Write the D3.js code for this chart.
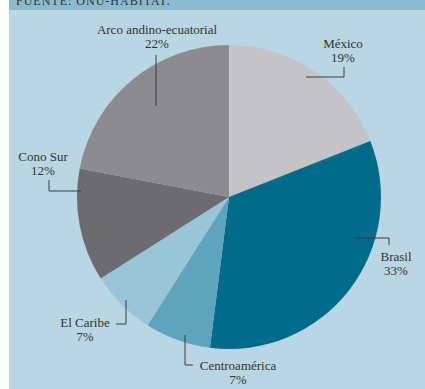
<!DOCTYPE html>
<meta charset="utf-8">
<style>
    body { margin: 0; background: #fff; }
    text {
        font-family: "Liberation Serif", "DejaVu Serif", serif;
        font-size: 13px;
        fill: #2f3336;
    }
    .leader {
        fill: none;
        stroke: #3a3d40;
        stroke-width: 1px;
    }
</style>
<svg width="425" height="389"></svg>
<script src="https://d3js.org/d3.v7.min.js"></script>
<script>
    // regions, share of total (%)
    var regions = ["México", "Brasil", "Centroamérica", "El Caribe", "Cono Sur", "Arco andino-ecuatorial"];
    var shares = [19, 33, 7, 7, 12, 22];
    var colors = ["#c4c4c6", "#006c8a", "#5ea4bc", "#9ac5d6", "#6b6b70", "#8b8b90"];

    // label layout: text centre, first baseline, leader polyline
    var labelLayout = [
        { x: 343, y: 48, line: [[306, 77], [344, 77], [344, 67]] },
        { x: 396, y: 261, line: [[355, 238], [389, 238], [389, 245]] },
        { x: 238, y: 370, line: [[185, 335], [185, 365], [193, 365]] },
        { x: 85, y: 327, line: [[116, 324], [126, 324], [126, 300]] },
        { x: 43, y: 161, line: [[49, 180], [49, 191], [81, 191]] },
        { x: 157, y: 34, line: [[156, 55], [156, 106]] }
    ];

    var width = 425, height = 389;
    var cx = 229, cy = 197, radius = 152;

    var svg = d3.select("svg");

    // background panel + source band
    svg.append("rect").attr("x", 9).attr("y", 0).attr("width", width - 9).attr("height", height)
        .attr("fill", "#b9d7e2");
    svg.append("rect").attr("x", 9).attr("y", 0).attr("width", width - 9).attr("height", 10)
        .attr("fill", "#8cbbcd");
    svg.append("text").attr("x", 16).attr("y", 5)
        .style("font-size", "12px").style("letter-spacing", "1px")
        .text("FUENTE: ONU-HÁBITAT.");

    var data = regions.map(function (r, i) { return { name: r, value: shares[i], color: colors[i] }; });

    var pie = d3.pie().sort(null).value(function (d) { return d.value; });
    var arc = d3.arc().innerRadius(0).outerRadius(radius);

    var g = svg.append("g").attr("transform", "translate(" + cx + "," + cy + ")");
    g.selectAll("path")
        .data(pie(data))
        .enter().append("path")
        .attr("d", arc)
        .attr("fill", function (d) { return d.data.color; });

    var line = d3.line();
    var labels = svg.append("g");
    data.forEach(function (d, i) {
        var l = labelLayout[i];
        labels.append("path").attr("class", "leader").attr("d", line(l.line));
        var t = labels.append("text").attr("text-anchor", "middle");
        t.append("tspan").attr("x", l.x).attr("y", l.y).text(d.name);
        t.append("tspan").attr("x", l.x).attr("y", l.y + 14).text(d.value + "%");
    });
</script>
